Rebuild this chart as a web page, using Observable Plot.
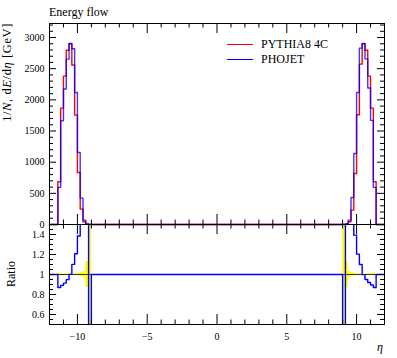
<!DOCTYPE html>
<html><head><meta charset="utf-8">
<script src="https://cdn.jsdelivr.net/npm/d3@7"></script>
<script src="https://cdn.jsdelivr.net/npm/@observablehq/plot@0.6"></script>
<style>
html,body{margin:0;padding:0;background:#fff;}
#chart{position:relative;width:397px;height:358px;}
#chart svg{position:absolute;left:0;top:0;}
#chart svg text{font-family:'Liberation Serif','Times New Roman',serif;}
</style></head><body><div id="chart"></div>
<script>
// ---- data ----
const etaEdges = [-12, -11.4, -11.2, -11.0, -10.8, -10.6, -10.4, -10.2, -10.0, -9.8, -9.6, -9.4, -9.2, -9.0,
                  9.0, 9.2, 9.4, 9.6, 9.8, 10.0, 10.2, 10.4, 10.6, 10.8, 11.0, 11.2, 11.4, 12];
const pythia = [0, 685, 1867, 2380, 2797, 2900, 2560, 1755, 834, 247, 43, 6, 1,
                0,
                1, 6, 43, 231, 818, 1760, 2573, 2904, 2797, 2380, 1867, 685, 0];
const phojet = [0, 596, 1664, 2175, 2653, 2905, 2820, 2118, 1155, 423, 70, 12, 0,
                0,
                0, 12, 70, 433, 1140, 2118, 2830, 2900, 2657, 2190, 1671, 596, 0];
const pythiaRelErr = [0, 0.012, 0.006, 0.005, 0.005, 0.005, 0.005, 0.006, 0.01, 0.02, 0.03, 0.13, 1,
                      0,
                      1, 0.13, 0.03, 0.02, 0.01, 0.006, 0.005, 0.005, 0.005, 0.005, 0.006, 0.012, 0];
const seriesNames = ["PYTHIA8 4C", "PHOJET"];
const seriesColors = ["#ff0000", "#0000ff"];
const xMajor = [-10, -5, 0, 5, 10];
const mainYMajor = [0, 500, 1000, 1500, 2000, 2500, 3000];
const ratioYMajor = [0.6, 0.8, 1, 1.2, 1.4];
const title = "Energy flow";

// ---- layout ----
const W = 397, H = 358, ML = 49, MR = 13;
const TOP = 23, MID = 224, BOT = 324;
const FW = W - ML - MR, FH1 = MID - TOP, FH2 = BOT - MID;
const FONT = "'Liberation Serif', 'Times New Roman', serif";
const fmt = d => d < 0 ? "\u2212" + String(-d) : String(d);

function steps(vals) {
  const pts = vals.map((v, i) => ({x: etaEdges[i], y: v}));
  pts.push({x: etaEdges[etaEdges.length - 1], y: vals[vals.length - 1]});
  return pts;
}
const ratioVals = pythia.map((p, i) => p > 0 ? phojet[i] / p : (phojet[i] === 0 ? 1 : NaN));
const band = pythiaRelErr.map((e, i) => ({x1: etaEdges[i], x2: etaEdges[i + 1], y1: 1 - e, y2: 1 + e}))
  .filter(d => d.y2 > d.y1);

const xMinor = d3.range(-11, 12).filter(v => !xMajor.includes(v));
const mainYMinor = d3.range(100, 3201, 100).filter(v => v % 500 !== 0);
const ratioYMinor = d3.range(11, 30).map(k => +(k * 0.05).toFixed(2))
  .filter(v => !ratioYMajor.some(m => Math.abs(m - v) < 1e-9));

function frameTicks(yMaj, yMin, fh) {
  const o = {stroke: "black", strokeWidth: 1};
  return [
    Plot.tickX(xMajor, {x: d => d, insetBottom: fh - 10, ...o}),
    Plot.tickX(xMajor, {x: d => d, insetTop: fh - 10, ...o}),
    Plot.tickX(xMinor, {x: d => d, insetBottom: fh - 4.5, ...o}),
    Plot.tickX(xMinor, {x: d => d, insetTop: fh - 4.5, ...o}),
    Plot.tickY(yMaj, {y: d => d, insetRight: FW - 7, ...o}),
    Plot.tickY(yMaj, {y: d => d, insetLeft: FW - 7, ...o}),
    Plot.tickY(yMin, {y: d => d, insetRight: FW - 4, ...o}),
    Plot.tickY(yMin, {y: d => d, insetLeft: FW - 4, ...o})
  ];
}
const style = "background:transparent;font-family:'Liberation Serif','Times New Roman',serif;font-size:10px;overflow:visible;color:black;";

const mainPlot = Plot.plot({
  width: W, height: MID,
  marginLeft: ML, marginRight: MR, marginTop: TOP, marginBottom: 0,
  style,
  x: {domain: [-12, 12], axis: null},
  y: {domain: [0, 3225]},
  marks: [
    Plot.line(steps(pythia), {x: "x", y: "y", curve: "step-after", stroke: seriesColors[0], strokeWidth: 1.4}),
    Plot.line(steps(phojet), {x: "x", y: "y", curve: "step-after", stroke: seriesColors[1], strokeWidth: 1.4, strokeOpacity: 0.78}),
    ...frameTicks(mainYMajor, mainYMinor, FH1),
    Plot.axisY(mainYMajor, {anchor: "left", tickSize: 0, tickPadding: 5, label: null, tickFormat: fmt}),
    Plot.frame({stroke: "black"})
  ]
});

const ratioPlot = Plot.plot({
  width: W, height: H,
  marginLeft: ML, marginRight: MR, marginTop: MID, marginBottom: H - BOT,
  style,
  x: {domain: [-12, 12]},
  y: {domain: [0.5, 1.5]},
  marks: [
    Plot.rect(band, {x1: "x1", x2: "x2", y1: "y1", y2: "y2", fill: "#ffff00", clip: true}),
    Plot.ruleY([1], {stroke: "#333300", strokeWidth: 1}),
    Plot.line(steps(ratioVals), {x: "x", y: "y", curve: "step-after", stroke: seriesColors[1], strokeWidth: 1.4, clip: true}),
    ...frameTicks(ratioYMajor, ratioYMinor, FH2),
    Plot.axisY(ratioYMajor, {anchor: "left", tickSize: 0, tickPadding: 5, label: null, tickFormat: fmt}),
    Plot.axisX(xMajor, {anchor: "bottom", tickSize: 0, tickPadding: 8, label: null, tickFormat: fmt}),
    Plot.frame({stroke: "black"})
  ]
});
[mainPlot, ratioPlot].forEach(s => d3.select(s).selectAll("text").attr("font-family", FONT).style("font-family", FONT));

// ---- labels overlay ----
const ov = d3.create("svg").attr("width", W).attr("height", H)
  .style("font-family", FONT).style("overflow", "visible");
ov.append("text").attr("x", ML).attr("y", 16).attr("font-size", 12).text(title);
seriesNames.forEach((name, i) => {
  const y = 44 + i * 15;
  ov.append("line").attr("x1", 227).attr("x2", 253).attr("y1", y + 0.5).attr("y2", y + 0.5)
    .attr("stroke", seriesColors[i]).attr("stroke-width", 1);
  ov.append("text").attr("x", 261).attr("y", y + 4).attr("font-size", 12).text(name);
});
const yl = ov.append("text").attr("transform", `translate(11,${TOP}) rotate(-90)`)
  .attr("text-anchor", "end").attr("font-size", 12.5).attr("letter-spacing", 0.6);
yl.append("tspan").text("1/");
yl.append("tspan").attr("font-style", "italic").text("N");
yl.append("tspan").text(", d");
yl.append("tspan").attr("font-style", "italic").text("E");
yl.append("tspan").text("/d");
yl.append("tspan").attr("font-style", "italic").text("\u03b7");
yl.append("tspan").text(" [GeV]");
ov.append("text").attr("transform", `translate(15,${(MID + BOT) / 2}) rotate(-90)`)
  .attr("text-anchor", "middle").attr("font-size", 12).text("Ratio");
ov.append("text").attr("x", W - MR - 1).attr("y", 351).attr("text-anchor", "end")
  .attr("font-size", 12).attr("font-style", "italic").text("\u03b7");

const c = document.getElementById("chart");
c.appendChild(mainPlot);
c.appendChild(ratioPlot);
c.appendChild(ov.node());
</script></body></html>
